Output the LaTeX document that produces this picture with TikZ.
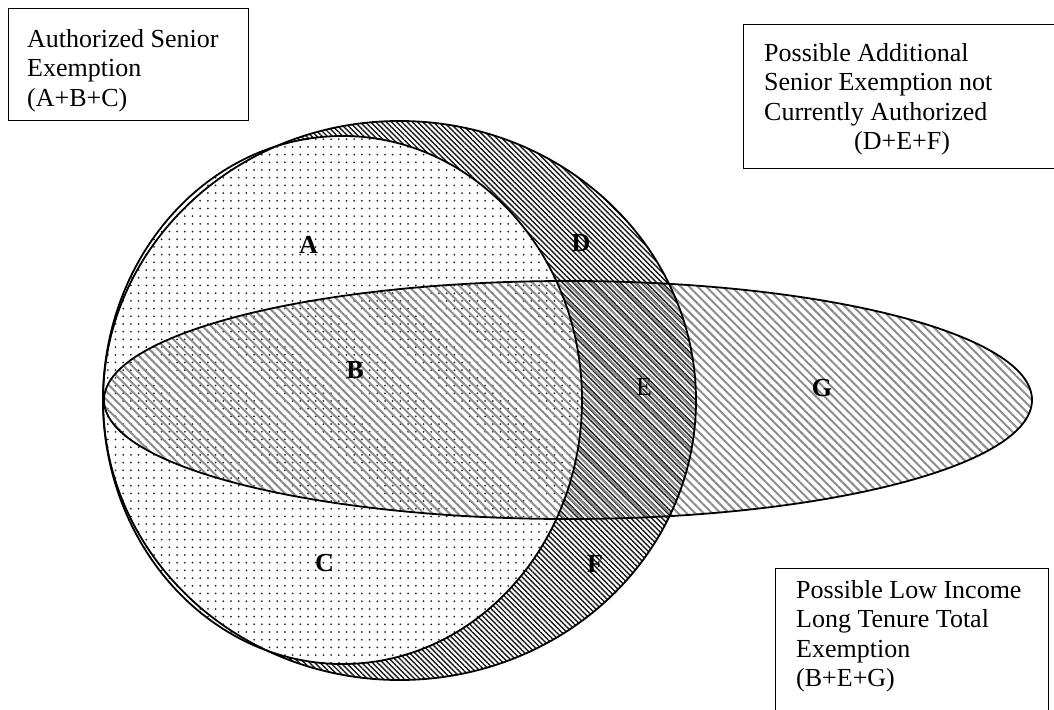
\documentclass[tikz,border=0pt]{standalone}
\usepackage{fontspec}
\setmainfont{Liberation Serif}
\usetikzlibrary{patterns.meta}
\begin{document}
\begin{tikzpicture}[x=1pt,y=-1pt,
  boxtext/.style={font=\fontsize{26}{29.5}\selectfont, align=left, inner sep=0pt, anchor=north west},
  region/.style={font=\fontsize{26}{26}\selectfont\bfseries, inner sep=0pt},
  frame/.style={draw, line width=1.4pt, inner sep=0pt, anchor=north west},
  outline/.style={line width=1.8pt}]
\useasboundingbox (0,0) rectangle (1054,709);
\clip (0,0) rectangle (1054,709);
% outer circle (D+E+F and the rest)
\fill[white] (399.5,400.5) ellipse [x radius=296.5pt, y radius=279.5pt];
\fill[pattern={Lines[angle=-45,distance=3.7pt,line width=1.4pt]}, pattern color=black!90]
  (399.5,400.5) ellipse [x radius=296.5pt, y radius=279.5pt];
% inner circle (A+B+C)
\fill[white] (342.5,400) ellipse [x radius=239.5pt, y radius=264pt];
\fill[pattern={Dots[distance=7.7pt,radius=1pt]}, pattern color=black!85]
  (342.5,400) ellipse [x radius=239.5pt, y radius=264pt];
% long ellipse (B+E+G)
\fill[pattern={Lines[angle=-45,distance=6pt,line width=2pt]}, pattern color=black!45]
  (568,400) ellipse [x radius=464pt, y radius=119pt];
% outlines
\draw[outline] (399.5,400.5) ellipse [x radius=296.5pt, y radius=279.5pt];
\draw[outline] (342.5,400) ellipse [x radius=239.5pt, y radius=264pt];
\draw[outline] (568,400) ellipse [x radius=464pt, y radius=119pt];
% region labels
\node[region] (A) at (308.5,245) {A};
\node[region] (B) at (355,370) {B};
\node[region] (C) at (324.5,563.5) {C};
\node[region] (D) at (581,243) {D};
\node[region, font=\fontsize{26}{26}\selectfont] (E) at (644,387) {E};
\node[region] (F) at (595,564) {F};
\node[region] (G) at (822,388) {G};
% boxes
\node[frame, fill=white, minimum width=240pt, minimum height=112pt] (box1) at (8,8) {};
\node[boxtext] (t1) at (27,29) {Authorized Senior\\Exemption\\(A+B+C)};
\node[frame, fill=white, minimum width=330pt, minimum height=144pt] (box2) at (743,24) {};
\node[boxtext] (t2) at (764,43) {Possible Additional\\Senior Exemption not\\Currently Authorized\\\hspace*{90pt}(D+E+F)};
\node[frame, fill=white, minimum width=273pt, minimum height=170pt] (box3) at (775,568) {};
\node[boxtext] (t3) at (796,580) {Possible Low Income\\Long Tenure Total\\Exemption\\(B+E+G)};
\end{tikzpicture}
\end{document}
